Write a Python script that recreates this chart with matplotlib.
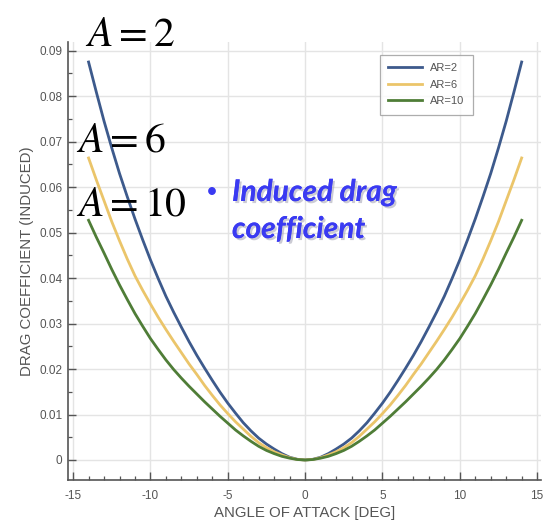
import matplotlib
matplotlib.use("Agg")
import matplotlib.pyplot as plt
from matplotlib.ticker import MultipleLocator
import matplotlib.patheffects as pe

plt.rcParams["font.family"] = ["Liberation Sans", "DejaVu Sans"]
plt.rcParams["axes.unicode_minus"] = False
plt.rcParams["mathtext.fontset"] = "stix"

# Angle of attack [deg] for the right half of the polar (curves are symmetric)
alpha_half = [0.0, 0.5, 1.0, 1.5, 2.0, 2.5, 3.0, 3.5, 4.0, 4.5, 5.0, 5.5, 6.0,
              6.5, 7.0, 7.5, 8.0, 8.5, 9.0, 9.5, 10.0, 10.5, 11.0, 11.5, 12.0,
              12.5, 13.0, 13.5, 14.0]

# Induced drag coefficient at the angles above
cd_half_ar2 = [0.0, 0.00015, 0.0006, 0.0014, 0.0024, 0.0035, 0.0048, 0.0064,
               0.0082, 0.0103, 0.0125, 0.0149, 0.0175, 0.0202, 0.0230, 0.0260,
               0.0292, 0.0325, 0.0360, 0.0399, 0.0440, 0.0484, 0.0530, 0.0579,
               0.0630, 0.0686, 0.0745, 0.0809, 0.0875]
cd_half_ar6 = [0.0, 0.00012, 0.0005, 0.0011, 0.0018, 0.0027, 0.0038, 0.0052,
               0.0068, 0.0084, 0.0102, 0.0121, 0.0142, 0.0164, 0.0188, 0.0211,
               0.0236, 0.0261, 0.0287, 0.0314, 0.0343, 0.0373, 0.0405, 0.0442,
               0.0482, 0.0524, 0.0570, 0.0616, 0.0664]
cd_half_ar10 = [0.0, 0.0001, 0.0004, 0.0008, 0.0014, 0.0021, 0.0030, 0.0041,
                0.0053, 0.0066, 0.0081, 0.0096, 0.0112, 0.0128, 0.0145, 0.0162,
                0.0180, 0.0199, 0.0220, 0.0243, 0.0267, 0.0294, 0.0322, 0.0353,
                0.0385, 0.0419, 0.0455, 0.0490, 0.0527]

alpha = [-a for a in alpha_half[::-1]] + alpha_half[1:]
cd_ar2 = cd_half_ar2[::-1] + cd_half_ar2[1:]
cd_ar6 = cd_half_ar6[::-1] + cd_half_ar6[1:]
cd_ar10 = cd_half_ar10[::-1] + cd_half_ar10[1:]

series_labels = ["AR=2", "AR=6", "AR=10"]
series_colors = ["#3d5a8c", "#ebc56a", "#4f7d37"]

x_ticks = [-15, -10, -5, 0, 5, 10, 15]
y_ticks = [0, 0.01, 0.02, 0.03, 0.04, 0.05, 0.06, 0.07, 0.08, 0.09]
y_ticklabels = ["0", "0.01", "0.02", "0.03", "0.04", "0.05", "0.06", "0.07", "0.08", "0.09"]

W, H = 548, 527
fig = plt.figure(figsize=(W / 100, H / 100), dpi=100)
fig.patch.set_facecolor("white")
ax = fig.add_axes([68 / W, (H - 480) / H, (541 - 68) / W, (480 - 42) / H])

for cd, lab, col in zip([cd_ar2, cd_ar6, cd_ar10], series_labels, series_colors):
    ax.plot(alpha, cd, color=col, lw=2.0, label=lab)

ax.set_xlim(-15.33, 15.25)
ax.set_ylim(-0.0044, 0.0919)
ax.set_xticks(x_ticks)
ax.set_yticks(y_ticks)
ax.set_yticklabels(y_ticklabels)
ax.xaxis.set_minor_locator(MultipleLocator(1))
ax.yaxis.set_minor_locator(MultipleLocator(0.005))

tick_gray = "#555555"
ax.tick_params(axis="both", which="major", direction="in", length=6, width=1.0,
               color=tick_gray, labelcolor=tick_gray, labelsize=8.5)
ax.tick_params(axis="both", which="minor", direction="in", length=3, width=0.9,
               color=tick_gray)
ax.tick_params(axis="y", pad=4)
ax.tick_params(axis="x", pad=7)

for side in ["top", "right"]:
    ax.spines[side].set_visible(False)
for side in ["left", "bottom"]:
    ax.spines[side].set_color(tick_gray)
    ax.spines[side].set_linewidth(1.2)

ax.grid(True, which="major", color="#e4e4e4", lw=1.0)
ax.set_axisbelow(True)

ax.set_xlabel("ANGLE OF ATTACK [DEG]", color=tick_gray, fontsize=10.8, labelpad=3)
ax.set_ylabel("DRAG COEFFICIENT (INDUCED)", color=tick_gray, fontsize=10.8, labelpad=4)

leg = ax.legend(loc="upper right", bbox_to_anchor=(0.868, 0.984), fontsize=8,
                frameon=True, fancybox=False, handlelength=3.0,
                labelcolor=tick_gray, borderpad=0.75, labelspacing=0.6)
leg.get_frame().set_edgecolor("#999999")
leg.get_frame().set_linewidth(0.9)

# Aspect-ratio annotations in serif math type
big = dict(fontsize=30, color="black", ha="left", va="baseline")
fig.text(85 / W, 1 - 46 / H, r"$A = 2$", **big)
fig.text(76 / W, 1 - 152 / H, r"$A = 6$", **big)
fig.text(76 / W, 1 - 215 / H, r"$A = 10$", **big)

# Blue call-out text
shadow = [pe.withSimplePatchShadow(offset=(1.5, -1.5), shadow_rgbFace="#9999aa", alpha=0.5),
          pe.Normal()]
callout = dict(fontsize=21.5, color="#3a3af2", fontweight="bold", style="italic",
               family="Lato", ha="left", va="baseline", path_effects=shadow)
fig.text(206 / W, 1 - 198 / H, "\u2022", fontsize=15, color="#3a3af2",
         ha="left", va="baseline", family="Lato")
fig.text(232 / W, 1 - 201 / H, "Induced drag", **callout)
fig.text(232 / W, 1 - 238 / H, "coefficient", **callout)

fig.savefig("out.png", dpi=100, facecolor="white")
